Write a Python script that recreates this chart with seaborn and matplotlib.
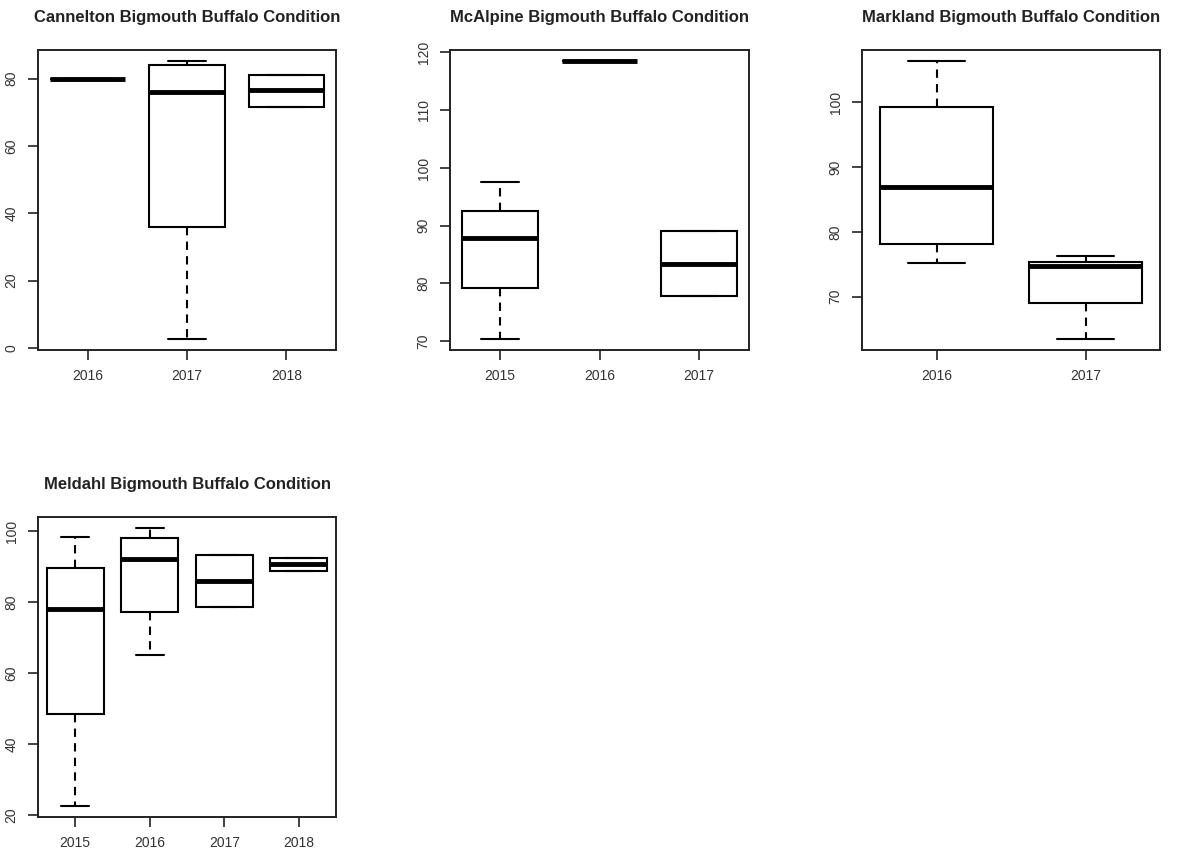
import pandas as pd
import numpy as np
import matplotlib.pyplot as plt
import seaborn as sns

# five-number style values (min, q1, median, q3, max)
cannelton_years = ['2016', '2017', '2018']
cannelton_vals = [[80.0], [2.7, 36.0, 76.0, 84.0, 85.2], [71.6, 71.6, 76.5, 81.0, 81.0]]
cannelton_ticks = [0, 20, 40, 60, 80]

mcalpine_years = ['2015', '2016', '2017']
mcalpine_vals = [[70.4, 79.2, 87.9, 92.6, 97.6], [118.5], [77.8, 77.8, 83.4, 89.0, 89.0]]
mcalpine_ticks = [70, 80, 90, 100, 110, 120]

markland_years = ['2016', '2017']
markland_vals = [[75.2, 78.1, 86.9, 99.3, 106.3], [63.5, 69.1, 74.7, 75.3, 76.2]]
markland_ticks = [70, 80, 90, 100]

meldahl_years = ['2015', '2016', '2017', '2018']
meldahl_vals = [[22.6, 48.6, 78.0, 89.6, 98.4], [65.2, 77.1, 92.0, 98.1, 100.8],
                [78.7, 78.7, 85.8, 93.2, 93.2], [88.8, 88.8, 90.8, 92.4, 92.4]]
meldahl_ticks = [20, 40, 60, 80, 100]

panels = [
    ('Cannelton', cannelton_years, cannelton_vals, cannelton_ticks),
    ('McAlpine', mcalpine_years, mcalpine_vals, mcalpine_ticks),
    ('Markland', markland_years, markland_vals, markland_ticks),
    ('Meldahl', meldahl_years, meldahl_vals, meldahl_ticks),
]

sns.set_theme(style='ticks')
plt.rcParams['font.family'] = ['Liberation Sans', 'DejaVu Sans']
plt.rcParams['axes.edgecolor'] = '#222222'
plt.rcParams['axes.linewidth'] = 1.4

fig = plt.figure(figsize=(11.96, 8.58), dpi=100)
W, H = 1196, 858
# axes boxes in pixels: left, top, right, bottom
boxes = [(38, 50, 336, 350), (450, 50, 749, 350), (862, 50, 1160, 350), (38, 517, 336, 817)]

for (site, years, vals, ticks), (l, t, r, b) in zip(panels, boxes):
    ax = fig.add_axes([l / W, (H - b) / H, (r - l) / W, (b - t) / H])
    rows = [(y, v) for y, vs in zip(years, vals) for v in vs]
    df = pd.DataFrame(rows, columns=['year', 'value'])
    sns.boxplot(data=df, x='year', y='value', order=years, ax=ax,
                color='white', linecolor='black', saturation=1, width=0.76,
                whis=(0, 100), showfliers=False, linewidth=1.5,
                medianprops=dict(linewidth=3.5),
                whiskerprops=dict(linestyle=(0, (4, 3))))
    lo, hi = df['value'].min(), df['value'].max()
    pad = (hi - lo) * 0.04
    ax.set_ylim(lo - pad, hi + pad)
    ax.set_xlim(-0.5, len(years) - 0.5)
    ax.set_yticks(ticks)
    ax.set_xlabel('')
    ax.set_ylabel('')
    for s in ax.spines.values():
        s.set_visible(True)
    ax.tick_params(axis='both', length=7, width=1.2, color='#222222',
                   labelsize=10, labelcolor='#333333', pad=7)
    for lab in ax.get_yticklabels():
        lab.set_rotation(90)
        lab.set_va('center')
    ax.set_title(f'{site} Bigmouth Buffalo Condition', fontsize=12,
                 fontweight='bold', color='#222222', pad=20)

fig.savefig('out.png', dpi=100)
